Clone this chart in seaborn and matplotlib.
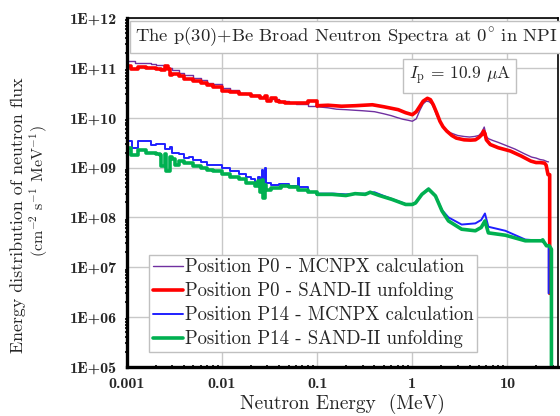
import numpy as np
import pandas as pd
import matplotlib
matplotlib.use('Agg')
import matplotlib.pyplot as plt
import seaborn as sns

# P0 - MCNPX calculation
e_p0_mc = [0.001, 0.0012, 0.0015, 0.0018, 0.002, 0.0025, 0.003, 0.0035, 0.004, 0.005,
           0.006, 0.007, 0.008, 0.01, 0.012, 0.015, 0.018, 0.02, 0.025, 0.03,
           0.04, 0.05, 0.06, 0.08, 0.1, 0.13, 0.16, 0.2, 0.25, 0.3,
           0.4, 0.5, 0.6, 0.7, 0.8, 0.9, 1.0, 1.1, 1.2, 1.3,
           1.4, 1.5, 1.6, 1.7, 1.8, 2.0, 2.2, 2.5, 3.0, 3.5,
           4.0, 4.5, 5.0, 5.4, 5.7, 6.0, 6.3, 7.0, 8.0, 10.0,
           12.0, 15.0, 18.0, 20.0, 22.0, 24.0, 26.0, 27.0]
f_p0_mc = [1.35e11, 1.26e11, 1.26e11, 1.2e11, 1.12e11, 1.0e11, 8.9e10, 7.9e10, 7.1e10, 6.2e10,
           5.6e10, 5.0e10, 4.7e10, 4.0e10, 3.6e10, 3.2e10, 2.95e10, 2.8e10, 2.6e10, 2.4e10,
           2.15e10, 2.0e10, 1.86e10, 1.74e10, 1.66e10, 1.58e10, 1.48e10, 1.45e10, 1.41e10, 1.38e10,
           1.32e10, 1.2e10, 1.1e10, 1.0e10, 9.3e9, 8.9e9, 8.5e9, 9.5e9, 1.41e10, 1.9e10,
           2.15e10, 2.1e10, 1.9e10, 1.51e10, 1.12e10, 7.6e9, 5.9e9, 5.0e9, 4.4e9, 4.2e9,
           4.1e9, 4.2e9, 4.4e9, 5.2e9, 6.5e9, 4.2e9, 3.8e9, 3.5e9, 3.2e9, 2.7e9,
           2.35e9, 1.9e9, 1.62e9, 1.55e9, 1.45e9, 1.41e9, 1.32e9, 1.3e9]

# P0 - SAND-II unfolding
e_p0_sd = [0.001, 0.0011, 0.0013, 0.0016, 0.002, 0.0023, 0.0025, 0.0027, 0.0028, 0.003,
           0.0035, 0.004, 0.005, 0.006, 0.007, 0.008, 0.01, 0.012, 0.015, 0.02,
           0.025, 0.028, 0.03, 0.033, 0.037, 0.04, 0.046, 0.06, 0.08, 0.1,
           0.13, 0.18, 0.25, 0.38, 0.5, 0.71, 0.85, 1.0, 1.1, 1.2,
           1.3, 1.44, 1.55, 1.66, 1.8, 1.95, 2.1, 2.3, 2.6, 2.9,
           3.5, 4.1, 4.6, 5.0, 5.4, 5.6, 5.8, 6.0, 6.6, 8.0,
           10.7, 14.0, 17.6, 20.0, 22.0, 24.5, 25.5, 26.7, 27.8, 27.8]
f_p0_sd = [1.07e11, 9.5e10, 1.05e11, 1.0e11, 9.5e10, 9.1e10, 1.1e11, 9.5e10, 7.2e10, 7.6e10,
           6.9e10, 6.0e10, 5.4e10, 5.0e10, 4.5e10, 4.2e10, 3.5e10, 3.3e10, 2.95e10, 2.7e10,
           2.5e10, 2.75e10, 2.2e10, 2.45e10, 2.2e10, 2.1e10, 1.95e10, 2.0e10, 2.15e10, 1.74e10,
           1.78e10, 1.7e10, 1.74e10, 1.82e10, 1.66e10, 1.45e10, 1.26e10, 1.15e10, 1.32e10, 1.7e10,
           2.15e10, 2.45e10, 2.3e10, 1.82e10, 1.26e10, 8.5e9, 6.6e9, 5.4e9, 4.4e9, 3.9e9,
           3.6e9, 3.55e9, 3.6e9, 4.0e9, 4.6e9, 5.4e9, 4.8e9, 3.6e9, 2.9e9, 2.5e9,
           2.15e9, 1.7e9, 1.35e9, 1.26e9, 1.26e9, 1.23e9, 1.12e9, 7.2e8, 7.2e8, 3.0e6]

# P14 - MCNPX calculation
e_p14_mc = [0.001, 0.00113, 0.0013, 0.0016, 0.0018, 0.002, 0.0022, 0.0025, 0.0028, 0.003,
            0.0035, 0.004, 0.0045, 0.005, 0.006, 0.007, 0.008, 0.0099, 0.012, 0.015,
            0.018, 0.02, 0.022, 0.024, 0.025, 0.026, 0.027, 0.028, 0.029, 0.033,
            0.04, 0.05, 0.06, 0.063, 0.065, 0.08, 0.1, 0.15, 0.2, 0.32,
            0.4, 0.5, 0.61, 0.85, 1.0, 1.1, 1.26, 1.48, 1.75, 2.05,
            2.4, 3.3, 4.6, 5.3, 5.8, 6.3, 9.5, 15.4, 22.8, 25.7,
            27.1, 27.1]
f_p14_mc = [3.4e9, 2.45e9, 3.4e9, 3.4e9, 2.8e9, 2.95e9, 2.95e9, 2.4e9, 2.6e9, 2.0e9,
            1.9e9, 1.58e9, 1.66e9, 1.45e9, 1.32e9, 1.12e9, 1.12e9, 1.0e9, 8.5e8, 7.6e8,
            6.6e8, 6.0e8, 5.2e8, 6.6e8, 5.6e8, 8.9e8, 5.2e8, 1.0e9, 5.0e8, 4.4e8,
            4.6e8, 4.3e8, 4.2e8, 6.3e8, 4.0e8, 3.3e8, 3.0e8, 3.0e8, 2.9e8, 3.0e8,
            3.2e8, 2.7e8, 2.35e8, 1.86e8, 1.86e8, 2.0e8, 2.9e8, 3.8e8, 2.75e8, 1.41e8,
            1.0e8, 7.2e7, 7.6e7, 8.9e7, 1.2e8, 6.5e7, 5.4e7, 3.6e7, 3.4e7, 2.8e7,
            2.8e7, 3.0e6]

# P14 - SAND-II unfolding
e_p14_sd = [0.001, 0.0011, 0.0013, 0.0016, 0.002, 0.0022, 0.0023, 0.0025, 0.0026, 0.0028,
            0.003, 0.0032, 0.0035, 0.004, 0.005, 0.006, 0.007, 0.008, 0.0099, 0.012,
            0.015, 0.018, 0.02, 0.022, 0.024, 0.025, 0.026, 0.027, 0.028, 0.029,
            0.033, 0.042, 0.05, 0.063, 0.08, 0.1, 0.143, 0.2, 0.25, 0.32,
            0.36, 0.45, 0.61, 0.85, 1.0, 1.08, 1.26, 1.48, 1.75, 2.05,
            2.4, 3.3, 4.6, 5.3, 5.8, 6.3, 9.5, 15.4, 22.8, 23.5,
            24.0, 25.7, 27.5, 29.0, 29.0]
f_p14_sd = [2.45e9, 1.82e9, 2.3e9, 1.95e9, 1.9e9, 1.78e9, 1.07e9, 1.9e9, 8.5e8, 1.66e9,
            1.51e9, 1.12e9, 1.38e9, 1.23e9, 1.07e9, 1.0e9, 8.9e8, 8.5e8, 7.4e8, 6.6e8,
            5.9e8, 5.0e8, 4.8e8, 4.2e8, 5.5e8, 3.2e8, 5.6e8, 2.4e8, 4.5e8, 3.5e8,
            3.9e8, 4.3e8, 4.0e8, 3.6e8, 3.2e8, 2.9e8, 2.9e8, 2.75e8, 3.0e8, 2.9e8,
            3.2e8, 2.75e8, 2.3e8, 1.82e8, 1.82e8, 1.95e8, 2.9e8, 3.7e8, 2.7e8, 1.35e8,
            8.5e7, 5.8e7, 5.4e7, 6.3e7, 8.5e7, 4.9e7, 4.4e7, 3.4e7, 3.4e7, 3.55e7,
            3.3e7, 2.7e7, 2.7e7, 2.3e7, 1.0e4]

labels = ['Position P0 - MCNPX calculation', 'Position P0 - SAND-II unfolding',
          'Position P14 - MCNPX calculation', 'Position P14 - SAND-II unfolding']
colors = ['#7030A0', '#FF0000', '#1F1FFF', '#00B050']
widths = [1.0, 2.6, 1.4, 2.6]

y_ticks = [1e5, 1e6, 1e7, 1e8, 1e9, 1e10, 1e11, 1e12]
y_labels = ['1E+05', '1E+06', '1E+07', '1E+08', '1E+09', '1E+10', '1E+11', '1E+12']
x_ticks = [0.001, 0.01, 0.1, 1, 10]
x_labels = ['0.001', '0.01', '0.1', '1', '10']

sns.set_theme(style='white')
plt.rcParams['font.family'] = ['cmr10', 'DejaVu Serif']
plt.rcParams['mathtext.fontset'] = 'cm'
plt.rcParams['axes.unicode_minus'] = False

fig = plt.figure(figsize=(5.6, 4.16), dpi=100)
ax = fig.add_axes([127/560, 1-367/416, 431/560, 349/416])

# histogram look at low energies, smooth line above
e_split = 0.1
series = [(e_p0_mc, f_p0_mc), (e_p0_sd, f_p0_sd), (e_p14_mc, f_p14_mc), (e_p14_sd, f_p14_sd)]
for (e, f), lab, c, w in zip(series, labels, colors, widths):
    d = pd.DataFrame({'E': e, 'F': f})
    lo = d[d.E <= e_split]
    hi = d[d.E >= lo.E.max()]
    sns.lineplot(data=lo, x='E', y='F', ax=ax, color=c, lw=w, label=lab,
                 sort=False, estimator=None, drawstyle='steps-post')
    sns.lineplot(data=hi, x='E', y='F', ax=ax, color=c, lw=w,
                 sort=False, estimator=None)

ax.set_xscale('log')
ax.set_yscale('log')
ax.set_xlim(0.001, 34)
ax.set_ylim(1e5, 1e12)
ax.set_xticks(x_ticks)
ax.set_xticklabels(x_labels, fontfamily='cmb10', fontsize=11.5)
ax.set_yticks(y_ticks)
ax.set_yticklabels(y_labels, fontfamily='cmb10', fontsize=11.5)
ax.tick_params(which='major', direction='inout', length=6, width=2, color='black', pad=4)
ax.tick_params(which='minor', direction='inout', length=3, width=1.2, color='black')
ax.tick_params(axis='y', which='minor', left=True)
ax.tick_params(axis='x', which='minor', bottom=True)
ax.grid(True, which='major', color='#c8c8c8', lw=1)
for s in ['left', 'bottom']:
    ax.spines[s].set_linewidth(2.4)
for s in ['top', 'right']:
    ax.spines[s].set_linewidth(1.2)
for s in ax.spines.values():
    s.set_color('black')

ax.set_xlabel('Neutron Energy  (MeV)', fontsize=14, labelpad=2)
ax.set_ylabel('')
fig.text(18/560, 1-215/416, 'Energy distribution of neutron flux', rotation=90,
         ha='center', va='center', fontsize=12.9)
fig.text(39/560, 1-191/416, r'(cm$^{-2}$ s$^{-1}$ MeV$^{-1}$)', rotation=90,
         ha='center', va='center', fontsize=11.5)

ax.text(0.508, 0.9456, r'The p(30)+Be Broad Neutron Spectra at 0$^{\circ}$ in NPI', transform=ax.transAxes,
        ha='center', va='center', fontsize=13.4,
        bbox=dict(boxstyle='square,pad=0.25', fc='white', ec='#c0c0c0', lw=1))
ax.text(0.772, 0.834, r'$I_{\mathrm{p}}$ = 10.9 $\mathrm{\mu}$A', transform=ax.transAxes,
        ha='center', va='center', fontsize=12.5,
        bbox=dict(boxstyle='square,pad=0.3', fc='white', ec='#c0c0c0', lw=1))

leg = ax.legend(loc='lower left', bbox_to_anchor=(0.051, 0.043), borderaxespad=0,
                fontsize=13.5, frameon=True, fancybox=False, framealpha=1,
                edgecolor='#c0c0c0', handlelength=1.6, handletextpad=0.1,
                labelspacing=0.32, borderpad=0.2)
leg.get_frame().set_linewidth(1)

fig.savefig('out.png', dpi=100)
